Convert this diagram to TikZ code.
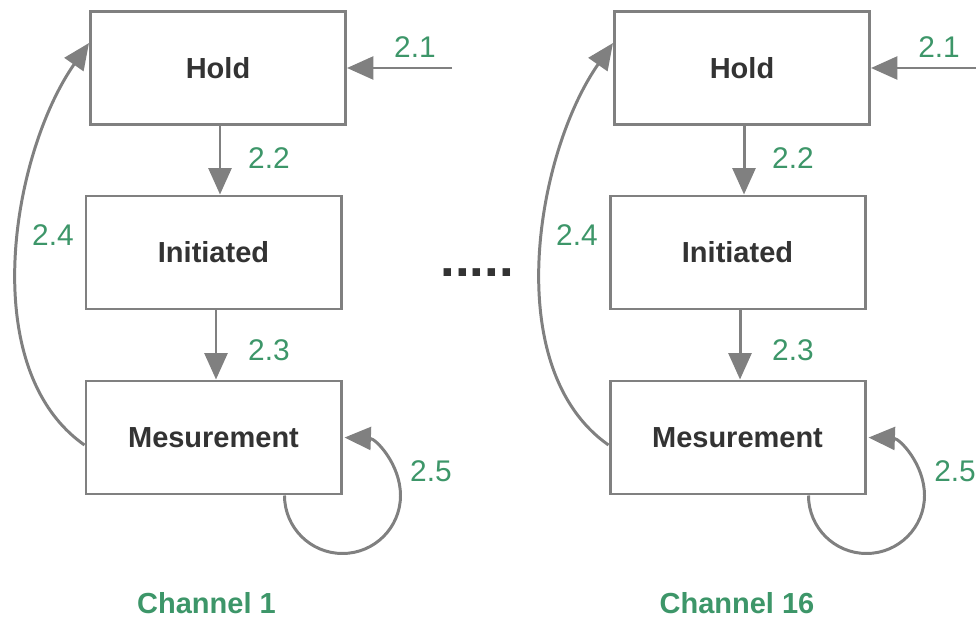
\documentclass[tikz,border=0pt]{standalone}
\usepackage{fontspec}
\setmainfont{Liberation Sans}
\usepackage{tikz}
\usetikzlibrary{arrows.meta, positioning}

\definecolor{boxgray}{RGB}{128,128,128}
\definecolor{labelgreen}{RGB}{61,150,105}
\definecolor{textdark}{RGB}{51,51,51}

\tikzset{
	statebox/.style={draw=boxgray, line width=1.7pt, fill=white, minimum width=5.1cm, minimum height=2.26cm, font=\fontsize{16.5}{20}\selectfont\bfseries, text=textdark},
	trans/.style={draw=boxgray, line width=1.7pt, -{Triangle[length=15pt, width=13pt]}},
	num/.style={font=\fontsize{17}{20}\selectfont, text=labelgreen, anchor=base},
	chan/.style={font=\fontsize{16.5}{20}\selectfont\bfseries, text=labelgreen, anchor=base}
}

\begin{document}
\begin{tikzpicture}
	
	% Fix the frame
	\useasboundingbox (0,0) rectangle (19.52,-12.42);
	
	% One column per channel
	\foreach \x/\ch/\cx/\n in {0/1/4.13/a, 10.48/16/14.74/b} {
		
		% States
		\node[statebox] (hold\n) at (4.36+\x, -1.36) {Hold};
		\node[statebox] (init\n) at (4.27+\x, -5.05) {Initiated};
		\node[statebox] (mes\n)  at (4.27+\x, -8.75) {Mesurement};
		
		% Incoming start
		\coordinate (start\n) at (9.04+\x, -1.36);
		\draw[trans] (start\n) -- (hold\n.east);
		\node[num] (l21\n) at (8.30+\x, -1.16) {2.1};
		
		% Hold -> Initiated
		\draw[trans] ([xshift=0.04cm]hold\n.south) -- ([xshift=0.04cm]hold\n.south |- init\n.north);
		\node[num] (l22\n) at (5.38+\x, -3.38) {2.2};
		
		% Initiated -> Mesurement
		\draw[trans] ([xshift=0.05cm]init\n.south) -- ([xshift=0.05cm]mes\n.north);
		\node[num] (l23\n) at (5.38+\x, -7.20) {2.3};
		
		% Mesurement -> Hold
		\draw[trans] ([yshift=-0.15cm]mes\n.west) to[out=145, in=-125, looseness=0.85] ([yshift=0.5cm]hold\n.west);
		\node[num] (l24\n) at (1.06+\x, -4.92) {2.4};
		
		% Mesurement -> Mesurement
		\draw[trans] ([xshift=-1.16cm]mes\n.south east) arc[start angle=180, end angle=448, radius=1.16cm];
		\node[num] (l25\n) at (8.62+\x, -9.62) {2.5};
		
		% Channel name
		\node[chan] (ch\n) at (\cx, -12.26) {Channel \ch};
	}
	
	% Other channels
	\node[anchor=base, font=\fontsize{30}{30}\selectfont\bfseries, text=textdark] (dots) at (9.54, -5.52) {.....};
	
\end{tikzpicture}
\end{document}
